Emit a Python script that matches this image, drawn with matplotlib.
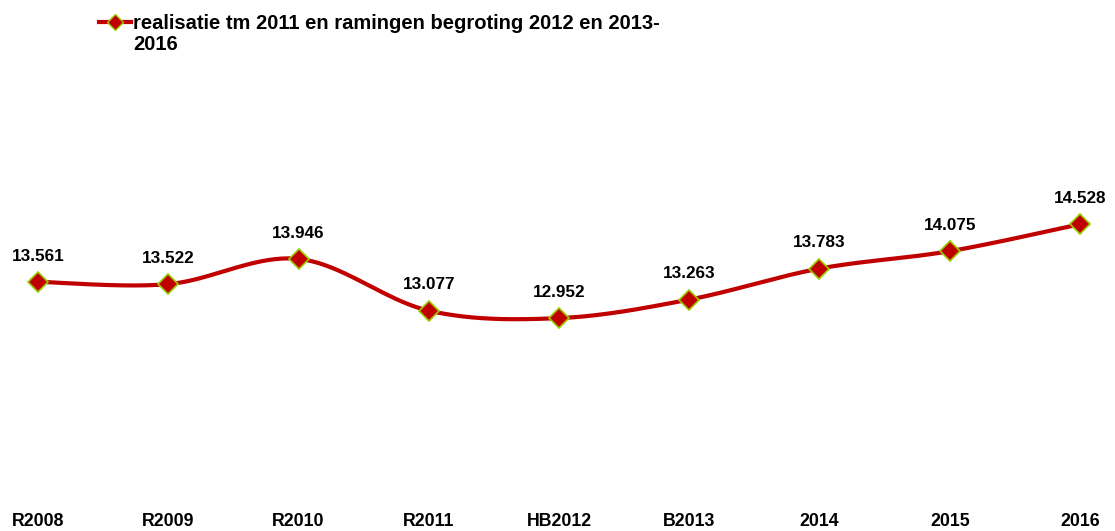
import matplotlib
matplotlib.use("Agg")
import matplotlib.pyplot as plt
from matplotlib.lines import Line2D
import numpy as np

plt.rcParams['font.family'] = ['Liberation Sans', 'DejaVu Sans']

categories = ["R2008", "R2009", "R2010", "R2011", "HB2012", "B2013", "2014", "2015", "2016"]
values = [13.561, 13.522, 13.946, 13.077, 12.952, 13.263, 13.783, 14.075, 14.528]
value_labels = ["13.561", "13.522", "13.946", "13.077", "12.952", "13.263", "13.783", "14.075", "14.528"]
series_name = "realisatie tm 2011 en ramingen begroting 2012 en 2013-\n2016"

line_color = "#C00000"
edge_color = "#99CC00"


def smooth(xs, ys, n=40):
    # catmull-rom style smoothing, like the spreadsheet "smoothed line"
    xs = np.asarray(xs, float)
    ys = np.asarray(ys, float)
    px = np.concatenate([[xs[0]], xs, [xs[-1]]])
    py = np.concatenate([[ys[0]], ys, [ys[-1]]])
    outx, outy = [], []
    t = np.linspace(0, 1, n)
    for i in range(1, len(px) - 2):
        p0, p1, p2, p3 = (np.array([px[j], py[j]]) for j in range(i - 1, i + 3))
        c1 = p1 + (p2 - p0) / 6.0
        c2 = p2 - (p3 - p1) / 6.0
        pts = ((1 - t) ** 3)[:, None] * p1 + (3 * (1 - t) ** 2 * t)[:, None] * c1 \
            + (3 * (1 - t) * t ** 2)[:, None] * c2 + (t ** 3)[:, None] * p2
        outx.extend(pts[:, 0])
        outy.extend(pts[:, 1])
    return np.array(outx), np.array(outy)


fig = plt.figure(figsize=(11.15, 5.31), dpi=100)
ax = fig.add_axes([0, 0, 1, 1])
ax.set_axis_off()

x = np.arange(len(categories))
sx, sy = smooth(x, values)
ax.plot(sx, sy, color=line_color, linewidth=3.0, solid_capstyle='round', zorder=2)
ax.plot(x, values, linestyle='none', marker='D', markersize=10,
        markerfacecolor=line_color, markeredgecolor=edge_color, markeredgewidth=1.2, zorder=3)

for xi, v, lab in zip(x, values, value_labels):
    ax.annotate(lab, (xi, v), xytext=(0, 18.5), textcoords='offset points',
                ha='center', va='center', fontsize=12.3, fontweight='bold')

ax.set_xlim(-0.292, 8.269)
ax.set_ylim(9.38, 18.29)

for xi, c in zip(x, categories):
    ax.text(xi, 0.018, c, transform=ax.get_xaxis_transform(), ha='center', va='center',
            fontsize=12.8, fontweight='bold')

# legend drawn by hand so the key sits beside the first line
fig.add_artist(Line2D([99 / 1115, 131 / 1115], [1 - 22 / 531, 1 - 22 / 531], color=line_color,
                      linewidth=3.0, transform=fig.transFigure))
fig.add_artist(Line2D([115 / 1115], [1 - 22 / 531], marker='D', markersize=8,
                      markerfacecolor=line_color, markeredgecolor=edge_color, markeredgewidth=1.0,
                      transform=fig.transFigure))
fig.text(133 / 1115, 1 - 14 / 531, series_name, ha='left', va='top', fontsize=14.5,
         fontweight='bold', linespacing=1.1)

fig.savefig("out.png", dpi=100)
